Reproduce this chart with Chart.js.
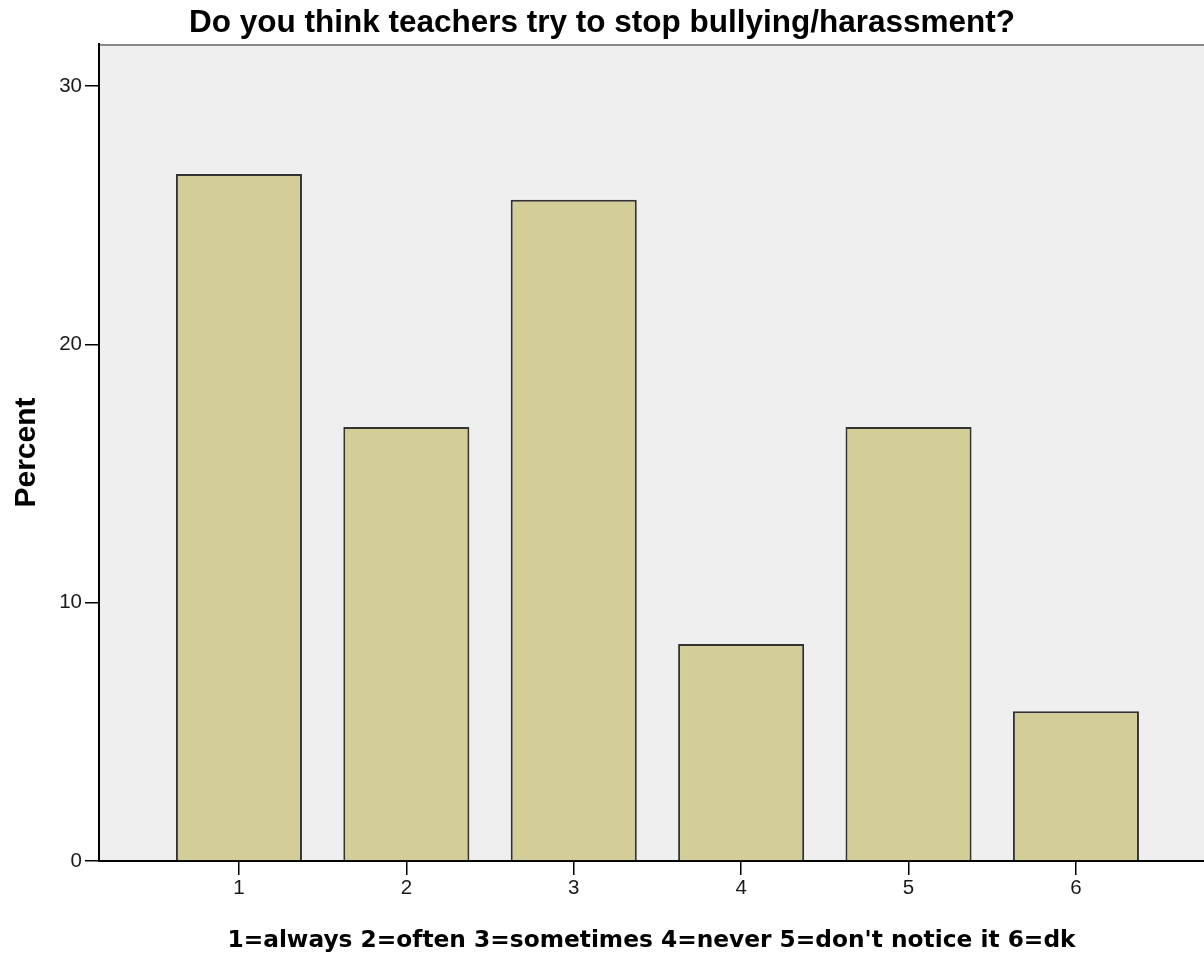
<!DOCTYPE html>
<html>
<head>
<meta charset="utf-8">
<script src="https://cdn.jsdelivr.net/npm/chart.js@4"></script>
<style>
  html, body { margin: 0; padding: 0; background: #fff; overflow: hidden; }
  #wrap { width: 1204px; height: 953px; position: relative; }
</style>
</head>
<body>
<div id="wrap"><canvas id="chart" width="1204" height="953"></canvas></div>
<script>
// data
const categories = [1, 2, 3, 4, 5, 6];
const percents = [26.6, 16.8, 25.6, 8.4, 16.8, 5.8];
const yTicks = [0, 10, 20, 30];

const chartTitle = 'Do you think teachers try to stop bullying/harassment?';
const xTitle = "1=always 2=often 3=sometimes 4=never 5=don't notice it 6=dk";
const yTitle = 'Percent';

// plot background + grey top frame
const plotBg = {
    id: 'plotBg',
    beforeDraw(chart) {
        const { ctx, chartArea: a } = chart;
        ctx.save();
        ctx.fillStyle = '#efefef';
        ctx.fillRect(a.left, a.top, a.right - a.left, a.bottom - a.top);
        ctx.strokeStyle = '#8a8a8a';
        ctx.lineWidth = 2;
        ctx.beginPath();
        ctx.moveTo(a.left, a.top + 1);
        ctx.lineTo(a.right, a.top + 1);
        ctx.stroke();
        ctx.restore();
    }
};

new Chart(document.getElementById('chart'), {
    type: 'bar',
    data: {
        datasets: [{
            data: categories.map((c, i) => ({ x: c, y: percents[i] })),
            backgroundColor: '#d3ce98',
            borderColor: '#333333',
            borderWidth: 2,
            barPercentage: 0.753,
            categoryPercentage: 1
        }]
    },
    options: {
        responsive: false,
        animation: false,
        layout: { padding: 0 },
        plugins: {
            legend: { display: false },
            tooltip: { enabled: false },
            title: {
                display: true,
                text: chartTitle,
                color: '#000',
                font: { family: 'Liberation Sans, Arial, sans-serif', size: 31.5, weight: 'bold', lineHeight: 1 },
                padding: { top: 8, bottom: 4.5 }
            }
        },
        scales: {
            x: {
                type: 'linear',
                offset: false,
                min: 0.164,
                max: 6.765,
                afterBuildTicks: (s) => { s.ticks = categories.map(v => ({ value: v })); },
                afterFit: (s) => { s.height = 92; },
                grid: { display: true, offset: false, drawOnChartArea: false, drawTicks: true, tickLength: 14, color: '#000', lineWidth: 1.5 },
                border: { display: true, color: '#000', width: 2 },
                ticks: {
                    color: '#1a1a1a',
                    padding: 3,
                    maxRotation: 0,
                    font: { family: 'Liberation Sans, Arial, sans-serif', size: 20.5, lineHeight: 1 }
                },
                title: {
                    display: true,
                    text: xTitle,
                    color: '#000',
                    font: { family: 'DejaVu Sans, sans-serif', size: 23.3, weight: 'bold', lineHeight: 1 },
                    padding: { top: 0, bottom: 0 }
                }
            },
            y: {
                min: 0,
                max: 31.63,
                afterBuildTicks: (s) => { s.ticks = yTicks.map(v => ({ value: v })); },
                afterFit: (s) => { s.width = 99; },
                grid: { display: true, drawOnChartArea: false, drawTicks: true, tickLength: 14, color: '#000', lineWidth: 1.5 },
                border: { display: true, color: '#000', width: 2 },
                ticks: {
                    color: '#1a1a1a',
                    padding: 3,
                    font: { family: 'Liberation Sans, Arial, sans-serif', size: 20.5, lineHeight: 1 }
                },
                title: {
                    display: true,
                    text: yTitle,
                    color: '#000',
                    font: { family: 'Liberation Sans, Arial, sans-serif', size: 30, weight: 'bold', lineHeight: 1 },
                    padding: { top: 12, bottom: 12 }
                }
            }
        }
    },
    plugins: [plotBg]
});
</script>
</body>
</html>
